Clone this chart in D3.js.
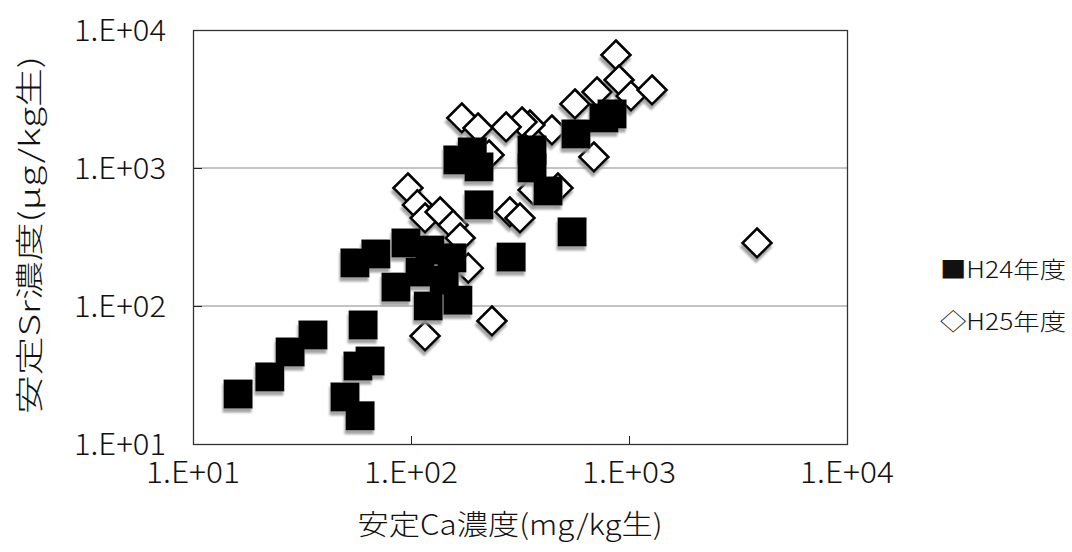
<!DOCTYPE html>
<html>
<head>
<meta charset="utf-8">
<script src="https://cdn.jsdelivr.net/npm/d3@7"></script>
<style>
  body { margin: 0; background: #fff; }
  text { font-family: "Noto Sans CJK JP", "DejaVu Sans", sans-serif; fill: #111; }
</style>
</head>
<body>
<div id="chart"></div>
<script>
// H24 (filled squares): Ca concentration (mg/kg) and Sr concentration (ug/kg)
var h24Ca = [16.1, 22.5, 27.9, 35.5, 60.3, 55.3, 69.0, 57.1, 64.9, 49.8, 58.4, 85.3, 94.8, 120, 164, 122,
    154, 110, 142, 288, 548, 164, 191, 205, 205, 359, 359, 425, 571, 767, 836];
var h24Sr = [23.0, 30.6, 46.4, 61.6, 72.8, 205, 238, 36.7, 39.9, 21.9, 16.0, 137, 286, 100, 110, 254,
    223, 176, 154, 226, 344, 1143, 1306, 1017, 540, 1350, 1000, 681, 1763, 2303, 2462];

// H25 (open diamonds)
var h25Ca = [3865, 871, 900, 713, 1021, 1276, 565, 690, 443, 351, 323, 273, 171, 203, 228, 284, 316,
    363, 472, 235, 116, 96.8, 107, 116, 136, 156, 183, 168];
var h25Sr = [286, 6590, 4340, 3553, 3325, 3675, 2910, 1202, 1885, 2050, 2155, 1982, 2303, 1950, 1242, 480, 434,
    693, 716, 77.9, 60.6, 716, 540, 434, 480, 386, 188, 311];

var tickValues = [10, 100, 1000, 10000];
var tickLabels = ["1.E+01", "1.E+02", "1.E+03", "1.E+04"];
var seriesNames = ["■H24年度", "◇H25年度"];

var width = 1072, height = 552;
var margin = { top: 30, right: 225, bottom: 108, left: 193 };

var svg = d3.select("#chart")
    .append("svg")
    .attr("width", width)
    .attr("height", height);

// soft grey shadow like the scanned Excel markers
var defs = svg.append("defs");
var f = defs.append("filter").attr("id", "shadow")
    .attr("x", "-30%").attr("y", "-30%").attr("width", "160%").attr("height", "170%");
f.append("feDropShadow")
    .attr("dx", -1).attr("dy", 4)
    .attr("stdDeviation", 1.3)
    .attr("flood-color", "#9a9a9a")
    .attr("flood-opacity", 0.9);

var x = d3.scaleLog()
    .domain([10, 10000])
    .range([margin.left, width - margin.right]);
var y = d3.scaleLog()
    .domain([10, 10000])
    .range([height - margin.bottom, margin.top]);

// horizontal gridlines
svg.append("g")
    .selectAll("line")
    .data(tickValues.slice(1, 3))
    .enter()
    .append("line")
    .attr("x1", x(10))
    .attr("x2", x(10000))
    .attr("y1", function (d) { return y(d); })
    .attr("y2", function (d) { return y(d); })
    .attr("stroke", "#8a8a8a")
    .attr("stroke-width", 1);

// x axis (ticks inside)
var xAxis = svg.append("g")
    .attr("transform", "translate(0," + y(10) + ")")
    .call(d3.axisBottom(x).tickValues(tickValues).tickSize(-8).tickFormat(""));
xAxis.select(".domain").remove();
xAxis.selectAll("line").attr("stroke", "#222");

var yAxis = svg.append("g")
    .attr("transform", "translate(" + x(10) + ",0)")
    .call(d3.axisLeft(y).tickValues(tickValues).tickSize(-9).tickFormat(""));
yAxis.select(".domain").remove();
yAxis.selectAll("line").attr("stroke", "#222");

// plot frame
svg.append("rect")
    .attr("x", x(10) + 0.5)
    .attr("y", y(10000) + 0.5)
    .attr("width", x(10000) - x(10))
    .attr("height", y(10) - y(10000))
    .attr("fill", "none")
    .attr("stroke", "#333")
    .attr("stroke-width", 1.3);

// tick labels (narrow, tall look of the original font)
svg.append("g")
    .selectAll("text")
    .data(tickValues)
    .enter()
    .append("text")
    .attr("x", function (d) { return x(d); })
    .attr("y", y(10) + 39)
    .attr("text-anchor", "middle")
    .attr("textLength", 94)
    .attr("lengthAdjust", "spacingAndGlyphs")
    .style("font-size", "30px")
    .style("font-weight", "300")
    .text(function (d, i) { return tickLabels[i]; });

svg.append("g")
    .selectAll("text")
    .data(tickValues)
    .enter()
    .append("text")
    .attr("x", x(10) - 27)
    .attr("y", function (d) { return y(d) + 11; })
    .attr("text-anchor", "end")
    .attr("textLength", 92)
    .attr("lengthAdjust", "spacingAndGlyphs")
    .style("font-size", "30px")
    .style("font-weight", "300")
    .text(function (d, i) { return tickLabels[i]; });

// axis titles
svg.append("text")
    .attr("x", 510)
    .attr("y", 535)
    .attr("text-anchor", "middle")
    .attr("textLength", 305)
    .attr("lengthAdjust", "spacingAndGlyphs")
    .style("font-size", "28px")
    .style("font-weight", "300")
    .text("安定Ca濃度(mg/kg生)");

svg.append("text")
    .attr("transform", "translate(40,235) rotate(-90)")
    .attr("text-anchor", "middle")
    .attr("textLength", 358)
    .attr("lengthAdjust", "spacingAndGlyphs")
    .style("font-size", "28px")
    .style("font-weight", "300")
    .text("安定Sr濃度(μg/kg生)");

// H25 diamonds
var d25 = h25Ca.map(function (c, i) { return { ca: c, sr: h25Sr[i] }; });
var d24 = h24Ca.map(function (c, i) { return { ca: c, sr: h24Sr[i] }; });
var r = 14.5;

svg.append("g")
    .attr("filter", "url(#shadow)")
    .selectAll("path")
    .data(d25)
    .enter()
    .append("path")
    .attr("d", function (d) {
        var cx = x(d.ca), cy = y(d.sr);
        return "M" + cx + "," + (cy - r) + "L" + (cx + r) + "," + cy +
            "L" + cx + "," + (cy + r) + "L" + (cx - r) + "," + cy + "Z";
    })
    .attr("fill", "#fff")
    .attr("stroke", "#000")
    .attr("stroke-width", 2.6)
    .attr("stroke-linejoin", "miter");

// H24 squares
var s = 29;
svg.append("g")
    .attr("filter", "url(#shadow)")
    .selectAll("rect")
    .data(d24)
    .enter()
    .append("rect")
    .attr("x", function (d) { return x(d.ca) - s / 2; })
    .attr("y", function (d) { return y(d.sr) - s / 2; })
    .attr("width", s)
    .attr("height", s)
    .attr("fill", "#000");

// legend
svg.append("g")
    .selectAll("text")
    .data(seriesNames)
    .enter()
    .append("text")
    .attr("x", 940)
    .attr("y", function (d, i) { return 278 + i * 52; })
    .attr("textLength", 126)
    .attr("lengthAdjust", "spacingAndGlyphs")
    .style("font-size", "23px")
    .style("font-weight", "300")
    .text(function (d) { return d; });
</script>
</body>
</html>
